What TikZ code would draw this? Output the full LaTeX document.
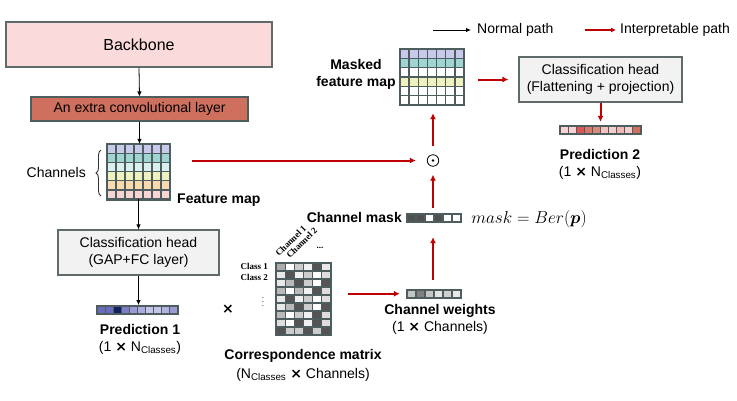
\documentclass[tikz,border=0pt]{standalone}
\usepackage{amsmath}
\usepackage{fontspec}
\setmainfont{Liberation Sans}
\newfontfamily\serifcls{Liberation Serif}
\newfontfamily\djv{DejaVu Sans}
\newcommand\mulx{{\djv\bfseries ×}}
\usetikzlibrary{arrows.meta,decorations.pathreplacing}
\definecolor{gridc}{HTML}{4E5D5D}
\definecolor{boxline}{HTML}{5F6B6B}
\definecolor{bbfill}{HTML}{FBDADC}
\definecolor{convfill}{HTML}{CF6F5E}
\definecolor{headfill}{HTML}{F2F2F2}
\definecolor{redp}{HTML}{C00000}
\definecolor{fmA}{HTML}{C9C9EC}
\definecolor{fmB}{HTML}{9ED5D3}
\definecolor{fmC}{HTML}{DAF0EE}
\definecolor{fmD}{HTML}{EFF1BE}
\definecolor{fmE}{HTML}{FBD9AE}
\definecolor{fmF}{HTML}{F8D5D5}
\begin{document}
\begin{tikzpicture}[x=1pt,y=-1pt,
  txt/.style={font=\fontsize{14}{17}\selectfont, inner sep=0},
  btxt/.style={font=\fontsize{14}{17}\selectfont\bfseries, inner sep=0},
  box/.style={draw=boxline, line width=1.1pt, inner sep=0, align=center, font=\fontsize{14}{17}\selectfont},
  blk/.style={-{Latex[length=5pt,width=4.5pt]}, line width=0.8pt, black},
  redarr/.style={-{Latex[length=6pt,width=6pt]}, line width=2pt, redp},
  cellc/.style={draw=gridc, line width=1.3pt},
  area/.style={inner sep=0, draw=none},
  clslbl/.style={font=\serifcls\bfseries\fontsize{9}{10}\selectfont, inner sep=0}]
\useasboundingbox (0,0) rectangle (737,400);
\fill[white] (0,0) rectangle (737,400);

% legend
\coordinate (lga) at (433,30);
\coordinate (lgb) at (471,30);
\draw[blk] (lga) -- (lgb);
\node[txt, anchor=west] (lgt1) at (477,30) {Normal path};
\coordinate (lgc) at (585,30);
\coordinate (lgd) at (616,30);
\draw[redarr, line width=1.8pt, -{Latex[length=5pt,width=5pt]}] (lgc) -- (lgd);
\node[txt, anchor=west] (lgt2) at (620,30) {Interpretable path};

% boxes
\node[box, fill=bbfill, minimum width=266pt, minimum height=45pt, font=\fontsize{16}{18}\selectfont] (bb) at (139,44.5) {Backbone};
\node[box, fill=convfill, draw=gridc, minimum width=217pt, minimum height=24pt] (conv) at (139.5,109) {An extra convolutional layer};
\node[box, fill=headfill, minimum width=161pt, minimum height=45pt] (head1) at (138.5,252.5) {Classification head\\(GAP+FC layer)};
\node[box, fill=headfill, minimum width=163pt, minimum height=45pt] (head2) at (600.5,79.5) {Classification head\\(Flattening + projection)};

% feature map
\node[area, minimum width=63pt, minimum height=55.2pt] (fm) at (138.5,171.6) {};
\foreach [count=\i from 0] \rc in {fmA,fmB,fmC,fmD,fmE,fmF} {
  \foreach \j in {0,...,6} {
    \filldraw[cellc, fill=\rc] ({107+\j*9},{144+\i*9.2}) rectangle ++(9,9.2);
  }
}
\draw[gridc, line width=2.4pt] (fm.north west) rectangle (fm.south east);
\draw[decorate, decoration={brace, amplitude=5pt}, line width=0.9pt, black!80] (101,196) -- (101,150);
\node[txt, anchor=east] (chl) at (86,172) {Channels};
\node[btxt, anchor=west] (fml) at (177,200) {Feature map};

% masked feature map
\node[area, minimum width=64pt, minimum height=56pt] (mfm) at (432,77) {};
\foreach [count=\i from 0] \rc in {fmA,fmB,white,fmD,white,white} {
  \foreach \j in {0,...,6} {
    \filldraw[cellc, fill=\rc] ({400+\j*64/7},{49+\i*56/6}) rectangle ++({64/7},{56/6});
  }
}
\draw[gridc, line width=2.4pt] (mfm.north west) rectangle (mfm.south east);
\node[btxt, align=center] (mfml) at (356,74.5) {Masked\\feature map};

% prediction 1
\node[area, minimum width=81pt, minimum height=7.5pt] (pred1) at (137.5,310) {};
\foreach [count=\j from 0] \c in {6B6BC1,6B6BC1,102060,7C7CC9,9A9AD7,ABABE0,C5C5EC,C5C5EC,B2B2E3,9A9AD7} {
  \definecolor{tmpc}{HTML}{\c}
  \filldraw[draw=gridc, line width=1.1pt, fill=tmpc] ({97+\j*8.1},306.25) rectangle ++(8.1,7.5);
}
\draw[gridc, line width=1.8pt] (pred1.north west) rectangle (pred1.south east);
\node[btxt] (p1t) at (140,329) {Prediction 1};
\node[txt] (p1s) at (140,348) {(1 \mulx{} N\textsubscript{Classes})};

% prediction 2
\node[area, minimum width=81pt, minimum height=7.5pt] (pred2) at (600.5,129.75) {};
\foreach [count=\j from 0] \c in {F9D3D3,F9D3D3,E05555,D47B6D,D98A7A,F4C3C0,F6CECE,F0B8B5,F6CECE,CF6F5E} {
  \definecolor{tmpc}{HTML}{\c}
  \filldraw[draw=gridc, line width=1.1pt, fill=tmpc] ({560+\j*8.1},126) rectangle ++(8.1,7.5);
}
\draw[gridc, line width=1.8pt] (pred2.north west) rectangle (pred2.south east);
\node[btxt] (p2t) at (600,154) {Prediction 2};
\node[txt] (p2s) at (600,173) {(1 \mulx{} N\textsubscript{Classes})};

% times sign
\node[txt] (mul) at (228,309) {\mulx};

% correspondence matrix
\node[area, minimum width=55pt, minimum height=72pt] (mx) at (303.5,299) {};
\foreach [count=\i from 0] \row in {{67,100,80,94,33,91},{91,33,94,80,100,87},{91,73,33,80,100,33},{73,100,73,94,33,87},{91,33,94,80,100,87},{91,73,33,80,100,33},{73,100,80,94,33,87},{87,100,33,94,33,87},{33,80,80,33,80,33}} {
  \foreach [count=\j from 0] \v in \row {
    \filldraw[draw=gridc, line width=1.3pt, fill=white!\v!black] ({276+\j*55/6},{263+\i*8}) rectangle ++({55/6},8);
  }
}
\draw[gridc, line width=2.2pt] (mx.north west) rectangle (mx.south east);
\node[clslbl, anchor=east] (c1) at (268,266) {Class 1};
\node[clslbl, anchor=east] (c2) at (268,277) {Class 2};
\node[inner sep=0, font=\fontsize{8}{8}\selectfont] (vd) at (263,299) {$\vdots$};
\node[clslbl, rotate=45, anchor=base west] (ch1) at (279,257) {Channel 1};
\node[clslbl, rotate=45, anchor=base west] (ch2) at (290,259) {Channel 2};
\node[clslbl] (dots) at (320,248) {...};
\node[btxt] (mxt) at (303,356) {Correspondence matrix};
\node[txt] (mxs) at (303,375) {(N\textsubscript{Classes} \mulx{} Channels)};

% channel weights
\node[area, minimum width=54pt, minimum height=7.5pt] (cw) at (434,293.75) {};
\foreach [count=\j from 0] \c in {C4C4C4,808080,C4C4C4,E4E4E4,D0D0D0,E8E8E8} {
  \definecolor{tmpc}{HTML}{\c}
  \filldraw[draw=gridc, line width=1.1pt, fill=tmpc] ({407+\j*9},290) rectangle ++(9,7.5);
}
\draw[gridc, line width=1.8pt] (cw.north west) rectangle (cw.south east);
\node[btxt] (cwt) at (440,311) {Channel weights};
\node[txt] (cws) at (440,328) {(1 \mulx{} Channels)};

% channel mask
\node[area, minimum width=54pt, minimum height=8pt] (cm) at (434,218) {};
\foreach [count=\j from 0] \c in {505050,505050,FFFFFF,505050,FFFFFF,FFFFFF} {
  \definecolor{tmpc}{HTML}{\c}
  \filldraw[draw=gridc, line width=1.1pt, fill=tmpc] ({407+\j*9},214) rectangle ++(9,8);
}
\draw[gridc, line width=1.8pt] (cm.north west) rectangle (cm.south east);
\node[btxt, anchor=east] (cmt) at (402,217) {Channel mask};
\node[inner sep=0, font=\fontsize{16}{16}\selectfont] (eq) at (529,219) {$mask = Ber(\boldsymbol{p})$};

% odot
\node[circle, draw=black, line width=0.8pt, inner sep=0, minimum size=11.5pt] (od) at (433,160.5) {};
\fill (od.center) circle (1.3pt);

% black connectors
\draw[blk] (bb.south) -- (conv.north);
\draw[blk] (conv.south) -- (conv.south |- fm.north);
\draw[blk] (fm.south) -- (head1.north);
\draw[blk, shorten >=1pt] (head1.south) -- (head1.south |- pred1.north);

% red connectors
\coordinate (fmr) at (192,160.5);
\draw[redarr, shorten >=11pt] (fmr) -- (od.west);
\draw[redarr, shorten <=8pt, shorten >=8pt] (od.north) -- (od.north |- mfm.south);
\draw[redarr, shorten <=6pt, shorten >=8pt] (od.south |- cm.north) -- (od.south);
\draw[redarr, shorten <=10pt, shorten >=15pt] (cw.north -| od.south) -- (cm.south -| od.south);
\draw[redarr, shorten <=17pt, shorten >=7pt] (mx.east |- cw.west) -- (cw.west);
\draw[redarr, shorten <=14pt, shorten >=10pt] (mfm.east |- head2.west) -- (head2.west);
\draw[redarr, shorten >=4pt] (head2.south -| pred2.north) -- (pred2.north);
\end{tikzpicture}
\end{document}
